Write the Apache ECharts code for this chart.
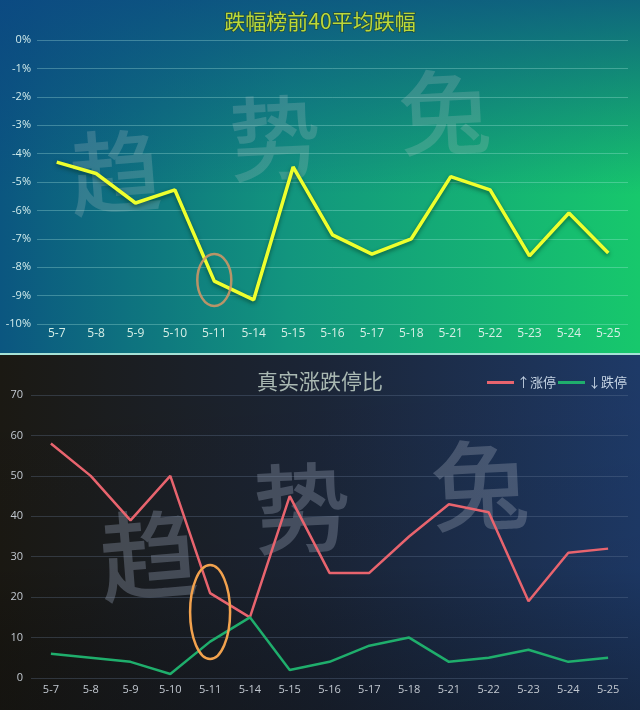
<!DOCTYPE html>
<html>
<head>
<meta charset="utf-8">
<script src="https://cdn.jsdelivr.net/npm/echarts@6/dist/echarts.min.js"></script>
<style>
html,body{margin:0;padding:0;background:#000;}
#c{width:640px;height:710px;}
</style>
</head>
<body>
<div id="c"></div>
<script>
// ---- data ----
var categories = ['5-7','5-8','5-9','5-10','5-11','5-14','5-15','5-16','5-17','5-18','5-21','5-22','5-23','5-24','5-25'];
var topTitle = '跌幅榜前40平均跌幅';
var avgDrop = [-4.3,-4.7,-5.74,-5.28,-8.49,-9.15,-4.47,-6.86,-7.54,-7.0,-4.81,-5.28,-7.6,-6.09,-7.5];
var bottomTitle = '真实涨跌停比';
var limitUpName = '↑涨停';
var limitDownName = '↓跌停';
var limitUp = [58,50,39,50,21,15,45,26,26,35,43,41,19,31,32];
var limitDown = [6,5,4,1,9,15,2,4,8,10,4,5,7,4,5];
var watermark = ['趋','势','兔'];

var chart = echarts.init(document.getElementById('c'), null, {renderer:'canvas'});
var cjk = '"Noto Sans CJK SC", sans-serif';

function wm(id, ch, x, y, size, rot, color){
  return {id:id, type:'text', z:1, silent:true, x:x, y:y, rotation:rot,
    style:{text:ch, fill:color, font:'500 '+size+'px '+cjk, textAlign:'center', textVerticalAlign:'middle'}};
}

var baseGraphics = [
    {id:'bgTop1', type:'rect', z:-10, silent:true, shape:{x:0,y:0,width:640,height:354},
     style:{fill:new echarts.graphic.LinearGradient(0,0,1,0,[{offset:0,color:'#0b5680'},{offset:0.45,color:'#12957e'},{offset:1,color:'#17c86c'}])}},
    {id:'bgTop2', type:'rect', z:-9, silent:true, shape:{x:0,y:0,width:640,height:354},
     style:{fill:new echarts.graphic.LinearGradient(0,0,0,1,[{offset:0,color:'rgba(12,70,130,0.75)'},{offset:0.55,color:'rgba(12,70,130,0)'},{offset:1,color:'rgba(12,70,130,0)'}])}},
    {id:'bgBot1', type:'rect', z:-10, silent:true, shape:{x:0,y:354,width:640,height:356},
     style:{fill:new echarts.graphic.LinearGradient(0,0,1,0,[{offset:0,color:'#1b1913'},{offset:0.5,color:'#1b2537'},{offset:1,color:'#1e3a68'}])}},
    {id:'bgBot2', type:'rect', z:-9, silent:true, shape:{x:0,y:354,width:640,height:356},
     style:{fill:new echarts.graphic.LinearGradient(0,0,0,1,[{offset:0,color:'rgba(0,0,0,0)'},{offset:0.6,color:'rgba(0,0,0,0.05)'},{offset:1,color:'rgba(10,10,10,0.35)'}])}},
    {id:'sep', type:'rect', z:5, silent:true, shape:{x:0,y:353,width:640,height:2}, style:{fill:'#a6e2d6'}},
    wm('w1',watermark[0],115,172,92,0.08,'rgba(190,200,200,0.22)'),
    wm('w2',watermark[1],275,138,92,0.05,'rgba(190,200,200,0.22)'),
    wm('w3',watermark[2],445,112,92,0.05,'rgba(190,200,200,0.22)'),
    wm('w4',watermark[0],148,555,98,0.08,'rgba(140,150,168,0.38)'),
    wm('w5',watermark[1],302,508,98,0.05,'rgba(140,150,168,0.38)'),
    wm('w6',watermark[2],480,485,98,0.05,'rgba(140,150,168,0.38)')
];

var option = {
  animation:false,
  graphic:{elements:baseGraphics},
  title:[
    {text:topTitle, left:'center', top:6,
     textStyle:{color:'#bcd83a', fontSize:21, fontWeight:'normal', fontFamily:cjk,
       textBorderColor:'rgba(40,60,20,0.6)', textBorderWidth:1.5}},
    {text:bottomTitle, left:'center', top:366,
     textStyle:{color:'#a9b8b2', fontSize:21, fontWeight:'normal', fontFamily:cjk}}
  ],
  legend:{
    data:[limitUpName, limitDownName], right:8, top:371, itemWidth:27, itemHeight:3, itemGap:2,
    icon:'rect',
    textStyle:{color:'#c4d2e2', fontSize:13, fontFamily:cjk, padding:[0,0,0,-2]}
  },
  grid:[
    {left:37, right:12, top:40, height:284},
    {left:31, right:12, top:395, height:283}
  ],
  xAxis:[
    {type:'category', gridIndex:0, data:categories, boundaryGap:true,
     axisLine:{show:false}, axisTick:{show:false},
     axisLabel:{color:'#d6eee6', fontSize:12, margin:4, fontFamily:'"Open Sans", sans-serif', interval:0}},
    {type:'category', gridIndex:1, data:categories, boundaryGap:true,
     axisLine:{show:false}, axisTick:{show:false},
     axisLabel:{color:'#c2c8d0', fontSize:11, margin:6, fontFamily:'"Open Sans", sans-serif', interval:0}}
  ],
  yAxis:[
    {type:'value', gridIndex:0, min:-10, max:0, interval:1,
     axisLabel:{formatter:'{value}%', color:'#d2ecec', fontSize:11, margin:6, fontFamily:'"Open Sans", sans-serif'},
     splitLine:{lineStyle:{color:'rgba(180,240,230,0.3)', width:1}},
     axisLine:{show:false}, axisTick:{show:false}},
    {type:'value', gridIndex:1, min:0, max:70, interval:10,
     axisLabel:{color:'#c2c8d0', fontSize:11, margin:8, fontFamily:'"Open Sans", sans-serif'},
     splitLine:{lineStyle:{color:'rgba(110,130,160,0.3)', width:1}},
     axisLine:{show:false}, axisTick:{show:false}}
  ],
  series:[
    {name:topTitle, type:'line', xAxisIndex:0, yAxisIndex:0, data:avgDrop, symbol:'none', z:10,
     lineStyle:{color:'#eeff2e', width:3.5, shadowColor:'rgba(0,40,20,0.55)', shadowBlur:4, shadowOffsetY:2}},
    {name:limitUpName, type:'line', xAxisIndex:1, yAxisIndex:1, data:limitUp, symbol:'none', z:10,
     itemStyle:{color:'#e8646e'}, lineStyle:{color:'#e8646e', width:2.5}},
    {name:limitDownName, type:'line', xAxisIndex:1, yAxisIndex:1, data:limitDown, symbol:'none', z:10,
     itemStyle:{color:'#1fae6c'}, lineStyle:{color:'#1fae6c', width:2.5}}
  ]
};
chart.setOption(option);

// annotation ellipses positioned via the chart's scales
var p1 = chart.convertToPixel({gridIndex:0}, ['5-11', -8.45]);
var p2 = chart.convertToPixel({gridIndex:1}, ['5-11', 16.3]);
chart.setOption({graphic:{elements:[
  {id:'ell1', type:'ellipse', z:20, silent:true, shape:{cx:p1[0], cy:p1[1], rx:17, ry:26},
   style:{fill:null, stroke:'rgba(214,150,100,0.85)', lineWidth:2.5}},
  {id:'ell2', type:'ellipse', z:20, silent:true, shape:{cx:p2[0], cy:p2[1], rx:20, ry:47},
   style:{fill:null, stroke:'#f2a24e', lineWidth:2.5}}
]}});
</script>
</body>
</html>
